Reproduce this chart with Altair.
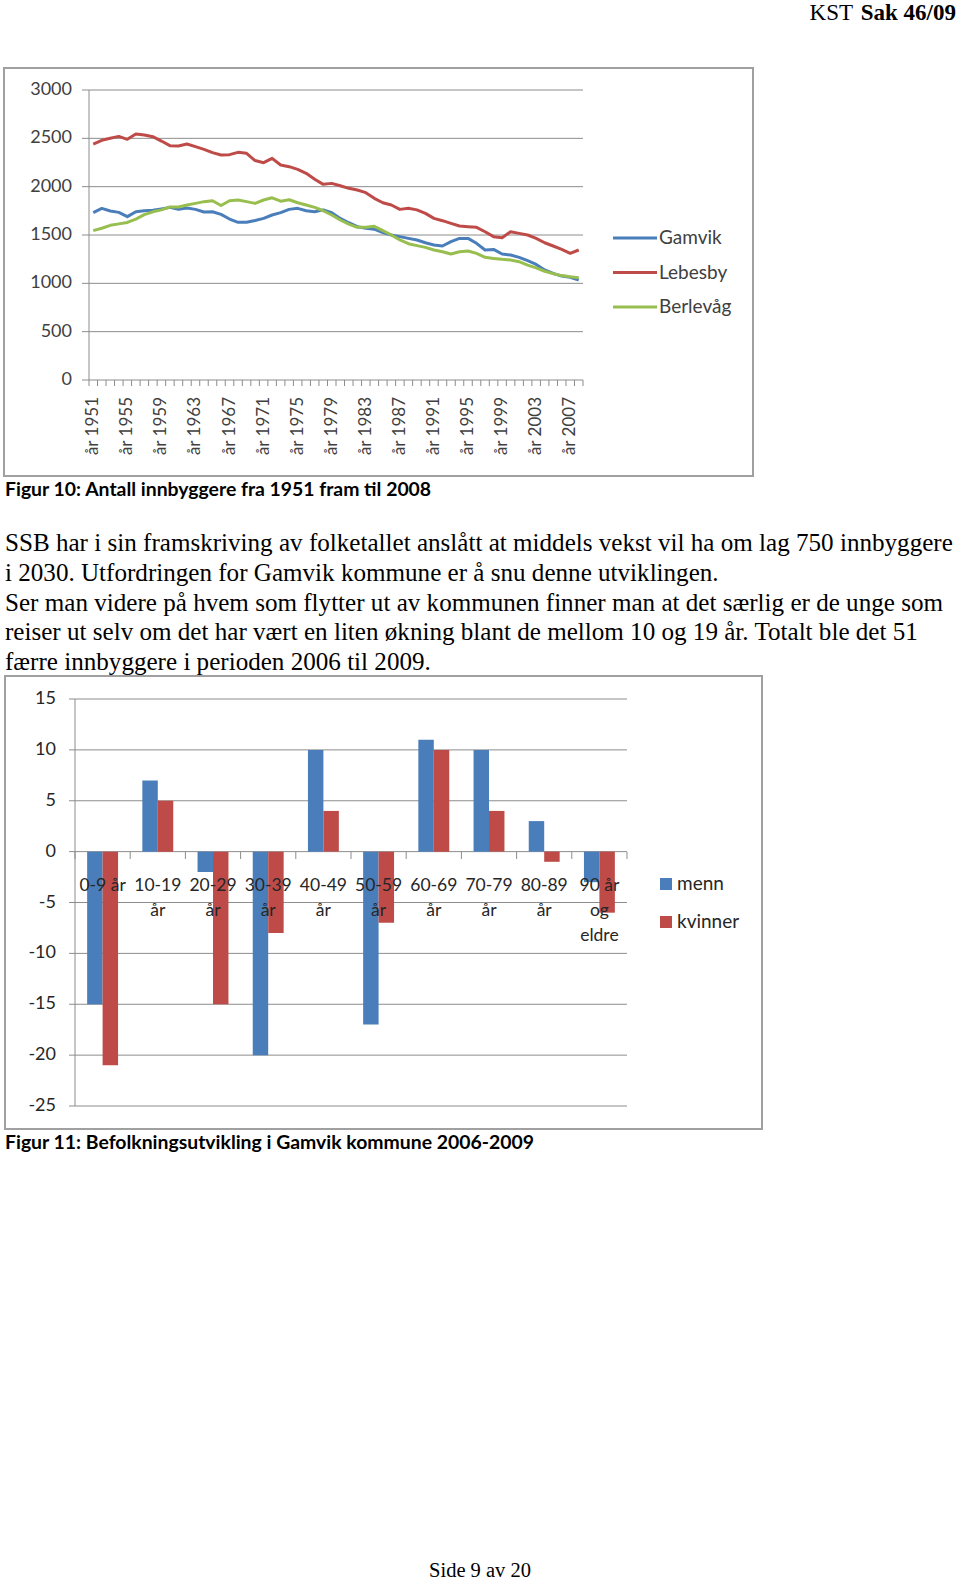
import altair as alt
import pandas as pd

# ---------------- data ----------------
years = list(range(1951, 2009))
gamvik = [1731, 1775, 1748, 1734, 1690, 1741, 1751, 1755, 1770, 1786,
          1765, 1779, 1765, 1738, 1741, 1713, 1665, 1631, 1631, 1650,
          1672, 1707, 1731, 1765, 1776, 1751, 1741, 1760, 1731, 1672,
          1627, 1586, 1569, 1560, 1525, 1500, 1483, 1465, 1448, 1420,
          1396, 1386, 1431, 1465, 1465, 1414, 1345, 1351, 1303, 1293,
          1269, 1234, 1196, 1138, 1103, 1075, 1062, 1034]
lebesby = [2441, 2480, 2500, 2520, 2490, 2545, 2535, 2517, 2472, 2424,
           2421, 2441, 2414, 2386, 2352, 2328, 2331, 2355, 2345, 2270,
           2248, 2293, 2224, 2207, 2179, 2138, 2076, 2024, 2034, 2010,
           1983, 1965, 1938, 1879, 1834, 1810, 1765, 1776, 1760, 1724,
           1672, 1648, 1620, 1593, 1586, 1579, 1534, 1483, 1472, 1534,
           1517, 1500, 1465, 1420, 1386, 1351, 1310, 1345]
berlevag = [1545, 1570, 1600, 1615, 1630, 1665, 1710, 1740, 1760, 1790,
            1790, 1810, 1827, 1845, 1855, 1805, 1855, 1862, 1845, 1827,
            1862, 1885, 1850, 1865, 1834, 1810, 1786, 1751, 1707, 1655,
            1613, 1579, 1580, 1590, 1545, 1500, 1450, 1410, 1390, 1372,
            1345, 1327, 1303, 1327, 1335, 1310, 1269, 1258, 1248, 1241,
            1224, 1189, 1160, 1125, 1100, 1080, 1068, 1058]
series_names = ["Gamvik", "Lebesby", "Berlevåg"]
series_colors = ["#4A7EBB", "#BE4B48", "#98BE50"]
y1_ticks = [0, 500, 1000, 1500, 2000, 2500, 3000]
x1_label_years = list(range(1951, 2008, 4))

age_groups = ["0-9 år", "10-19 år", "20-29 år", "30-39 år", "40-49 år",
              "50-59 år", "60-69 år", "70-79 år", "80-89 år", "90 år og eldre"]
age_labels = ["0-9 år", "10-19\når", "20-29\når", "30-39\når", "40-49\når",
              "50-59\når", "60-69\når", "70-79\når", "80-89\når", "90 år\nog\neldre"]
menn = [-15, 7, -2, -20, 10, -17, 11, 10, 3, -3]
kvinner = [-21, 5, -15, -8, 4, -7, 10, 4, -1, -6]
gender_names = ["menn", "kvinner"]
gender_colors = ["#4A7EBB", "#BE4B48"]
y2_ticks = [-25, -20, -15, -10, -5, 0, 5, 10, 15]

header_regular = "KST"
header_bold = "Sak 46/09"
caption1 = "Figur 10: Antall innbyggere fra 1951 fram til 2008"
caption2 = "Figur 11: Befolkningsutvikling i Gamvik kommune 2006-2009"
body_lines = [
    "SSB har i sin framskriving av folketallet anslått at middels vekst vil ha om lag 750 innbyggere",
    "i 2030. Utfordringen for Gamvik kommune er å snu denne utviklingen.",
    "Ser man videre på hvem som flytter ut av kommunen finner man at det særlig er de unge som",
    "reiser ut selv om det har vært en liten økning blant de mellom 10 og 19 år. Totalt ble det 51",
    "færre innbyggere i perioden 2006 til 2009.",
]
footer = "Side 9 av 20"

# ---------------- tables ----------------
lines_df = pd.DataFrame({
    "year": years * 3,
    "series": sum([[n] * len(years) for n in series_names], []),
    "value": gamvik + lebesby + berlevag,
})
legend1_df = pd.DataFrame({"series": series_names, "i": list(range(3))})
y1_df = pd.DataFrame({"v": y1_ticks, "lab": [str(t) for t in y1_ticks]})
x1_bound_df = pd.DataFrame({"b": [y - 0.5 for y in years] + [years[-1] + 0.5]})
x1_lab_df = pd.DataFrame({"year": x1_label_years,
                          "lab": ["år " + str(y) for y in x1_label_years]})

bars_df = pd.DataFrame({
    "age": age_groups * 2,
    "gender": ["menn"] * len(age_groups) + ["kvinner"] * len(age_groups),
    "value": menn + kvinner,
})
age_lab_df = pd.DataFrame({"age": age_groups, "lab": age_labels})
y2_df = pd.DataFrame({"v": y2_ticks, "lab": [str(t) for t in y2_ticks]})
x2_bound_df = pd.DataFrame({"k": list(range(len(age_groups) + 1))})
legend2_df = pd.DataFrame({"gender": gender_names, "i": [0, 1]})
one = pd.DataFrame({"a": [0]})
body_df = pd.DataFrame({"line": body_lines, "i": list(range(len(body_lines)))})

# ---------------- scales ----------------
X1 = alt.Scale(domain=[1950.5, 2008.5], range=[89, 583], nice=False, zero=False)
Y1 = alt.Scale(domain=[0, 3000], range=[380, 90], nice=False, zero=False)
C1 = alt.Scale(domain=series_names, range=series_colors)
L1 = alt.Scale(domain=[0, 2], range=[238, 307], nice=False, zero=False)

X2 = alt.Scale(domain=age_groups, range=[75, 627], paddingInner=0.44, paddingOuter=0.22)
XB2 = alt.Scale(domain=[0, len(age_groups)], range=[75, 627], nice=False, zero=False)
Y2 = alt.Scale(domain=[-25, 15], range=[1106, 699], nice=False, zero=False)
C2 = alt.Scale(domain=gender_names, range=gender_colors)
L2 = alt.Scale(domain=[0, 1], range=[884, 922], nice=False, zero=False)
BODY = alt.Scale(domain=[0, len(body_lines) - 1], range=[543, 662], nice=False, zero=False)

GRID = "#8C8C8C"
FRAME = "#A0A0A0"
CHART_FONT = "Lato"
SERIF = "Liberation Serif"

layers = []

# ---------------- chart 1 ----------------
layers.append(alt.Chart(one).mark_rect(fill="white", stroke=FRAME, strokeWidth=2).encode(
    x=alt.value(4), x2=alt.value(753), y=alt.value(68), y2=alt.value(476)))
layers.append(alt.Chart(y1_df).mark_rule(color=GRID, strokeWidth=1).encode(
    y=alt.Y("v:Q", scale=Y1, axis=None), x=alt.value(82), x2=alt.value(583)))
layers.append(alt.Chart(one).mark_rule(color=GRID, strokeWidth=1).encode(
    x=alt.value(89), y=alt.value(90), y2=alt.value(380)))
layers.append(alt.Chart(x1_bound_df).mark_rule(color=GRID, strokeWidth=1).encode(
    x=alt.X("b:Q", scale=X1, axis=None), y=alt.value(380), y2=alt.value(386)))
layers.append(alt.Chart(y1_df).mark_text(align="right", baseline="middle", font=CHART_FONT,
                                         fontSize=18, color="#404040").encode(
    y=alt.Y("v:Q", scale=Y1, axis=None), x=alt.value(72), text="lab:N"))
layers.append(alt.Chart(x1_lab_df).mark_text(align="right", baseline="middle", angle=270,
                                             font=CHART_FONT, fontSize=17, color="#404040").encode(
    x=alt.X("year:Q", scale=X1, axis=None), y=alt.value(397), text="lab:N"))
layers.append(alt.Chart(lines_df).mark_line(strokeWidth=3, strokeJoin="round").encode(
    x=alt.X("year:Q", scale=X1, axis=None),
    y=alt.Y("value:Q", scale=Y1, axis=None),
    color=alt.Color("series:N", scale=C1, legend=None),
    detail="series:N"))
layers.append(alt.Chart(legend1_df).mark_rule(strokeWidth=3).encode(
    y=alt.Y("i:Q", scale=L1, axis=None), x=alt.value(613), x2=alt.value(657),
    color=alt.Color("series:N", scale=C1, legend=None)))
layers.append(alt.Chart(legend1_df).mark_text(align="left", baseline="middle", font=CHART_FONT,
                                              fontSize=19, color="#404040").encode(
    y=alt.Y("i:Q", scale=L1, axis=None), x=alt.value(659), text="series:N"))

# ---------------- chart 2 ----------------
layers.append(alt.Chart(one).mark_rect(fill="white", stroke=FRAME, strokeWidth=2).encode(
    x=alt.value(5), x2=alt.value(762), y=alt.value(676), y2=alt.value(1129)))
layers.append(alt.Chart(y2_df).mark_rule(color=GRID, strokeWidth=1).encode(
    y=alt.Y("v:Q", scale=Y2, axis=None), x=alt.value(69), x2=alt.value(627)))
layers.append(alt.Chart(one).mark_rule(color=GRID, strokeWidth=1).encode(
    x=alt.value(75), y=alt.value(699), y2=alt.value(1106)))
layers.append(alt.Chart(x2_bound_df).mark_rule(color=GRID, strokeWidth=1).encode(
    x=alt.X("k:Q", scale=XB2, axis=None), y=alt.value(852), y2=alt.value(859)))
layers.append(alt.Chart(y2_df).mark_text(align="right", baseline="middle", font=CHART_FONT,
                                         fontSize=18, color="#262626").encode(
    y=alt.Y("v:Q", scale=Y2, axis=None), x=alt.value(56), text="lab:N"))
layers.append(alt.Chart(bars_df).mark_bar().encode(
    x=alt.X("age:N", scale=X2, axis=None, sort=age_groups),
    xOffset=alt.XOffset("gender:N", scale=alt.Scale(domain=gender_names, paddingInner=0, paddingOuter=0)),
    y=alt.Y("value:Q", scale=Y2, axis=None),
    color=alt.Color("gender:N", scale=C2, legend=None)))
layers.append(alt.Chart(age_lab_df).mark_text(align="center", baseline="top", lineBreak="\n",
                                              lineHeight=25, font=CHART_FONT, fontSize=17.5,
                                              color="#262626").encode(
    x=alt.X("age:N", scale=X2, axis=None, sort=age_groups), y=alt.value(877), text="lab:N"))
layers.append(alt.Chart(legend2_df).mark_square(size=144, opacity=1).encode(
    y=alt.Y("i:Q", scale=L2, axis=None), x=alt.value(666),
    color=alt.Color("gender:N", scale=C2, legend=None)))
layers.append(alt.Chart(legend2_df).mark_text(align="left", baseline="middle", font=CHART_FONT,
                                              fontSize=19, color="#262626").encode(
    y=alt.Y("i:Q", scale=L2, axis=None), x=alt.value(677), text="gender:N"))

# ---------------- page text ----------------
layers.append(alt.Chart(one).mark_text(align="right", baseline="middle", font=SERIF, fontSize=23,
                                       fontWeight="bold", color="black").encode(
    x=alt.value(956), y=alt.value(13), text=alt.value(header_bold)))
layers.append(alt.Chart(one).mark_text(align="right", baseline="middle", font=SERIF, fontSize=23,
                                       color="black").encode(
    x=alt.value(853), y=alt.value(13), text=alt.value(header_regular)))
layers.append(alt.Chart(one).mark_text(align="left", baseline="middle", font=CHART_FONT, fontSize=19.4,
                                       fontWeight="bold", color="black").encode(
    x=alt.value(5), y=alt.value(490), text=alt.value(caption1)))
layers.append(alt.Chart(body_df).mark_text(align="left", baseline="middle", font=SERIF, fontSize=25.1,
                                           color="black").encode(
    x=alt.value(5), y=alt.Y("i:Q", scale=BODY, axis=None), text="line:N"))
layers.append(alt.Chart(one).mark_text(align="left", baseline="middle", font=CHART_FONT, fontSize=19.4,
                                       fontWeight="bold", color="black").encode(
    x=alt.value(5), y=alt.value(1143), text=alt.value(caption2)))
layers.append(alt.Chart(one).mark_text(align="center", baseline="middle", font=SERIF, fontSize=20.5,
                                       color="black").encode(
    x=alt.value(480), y=alt.value(1571), text=alt.value(footer)))

chart = alt.layer(*layers).resolve_scale(
    x="independent", y="independent", color="independent"
).properties(
    width=960, height=1581, padding=0, autosize="none", background="white"
).configure_view(stroke=None)

chart.save("out.html", embed_options={"renderer": "svg", "actions": False})
